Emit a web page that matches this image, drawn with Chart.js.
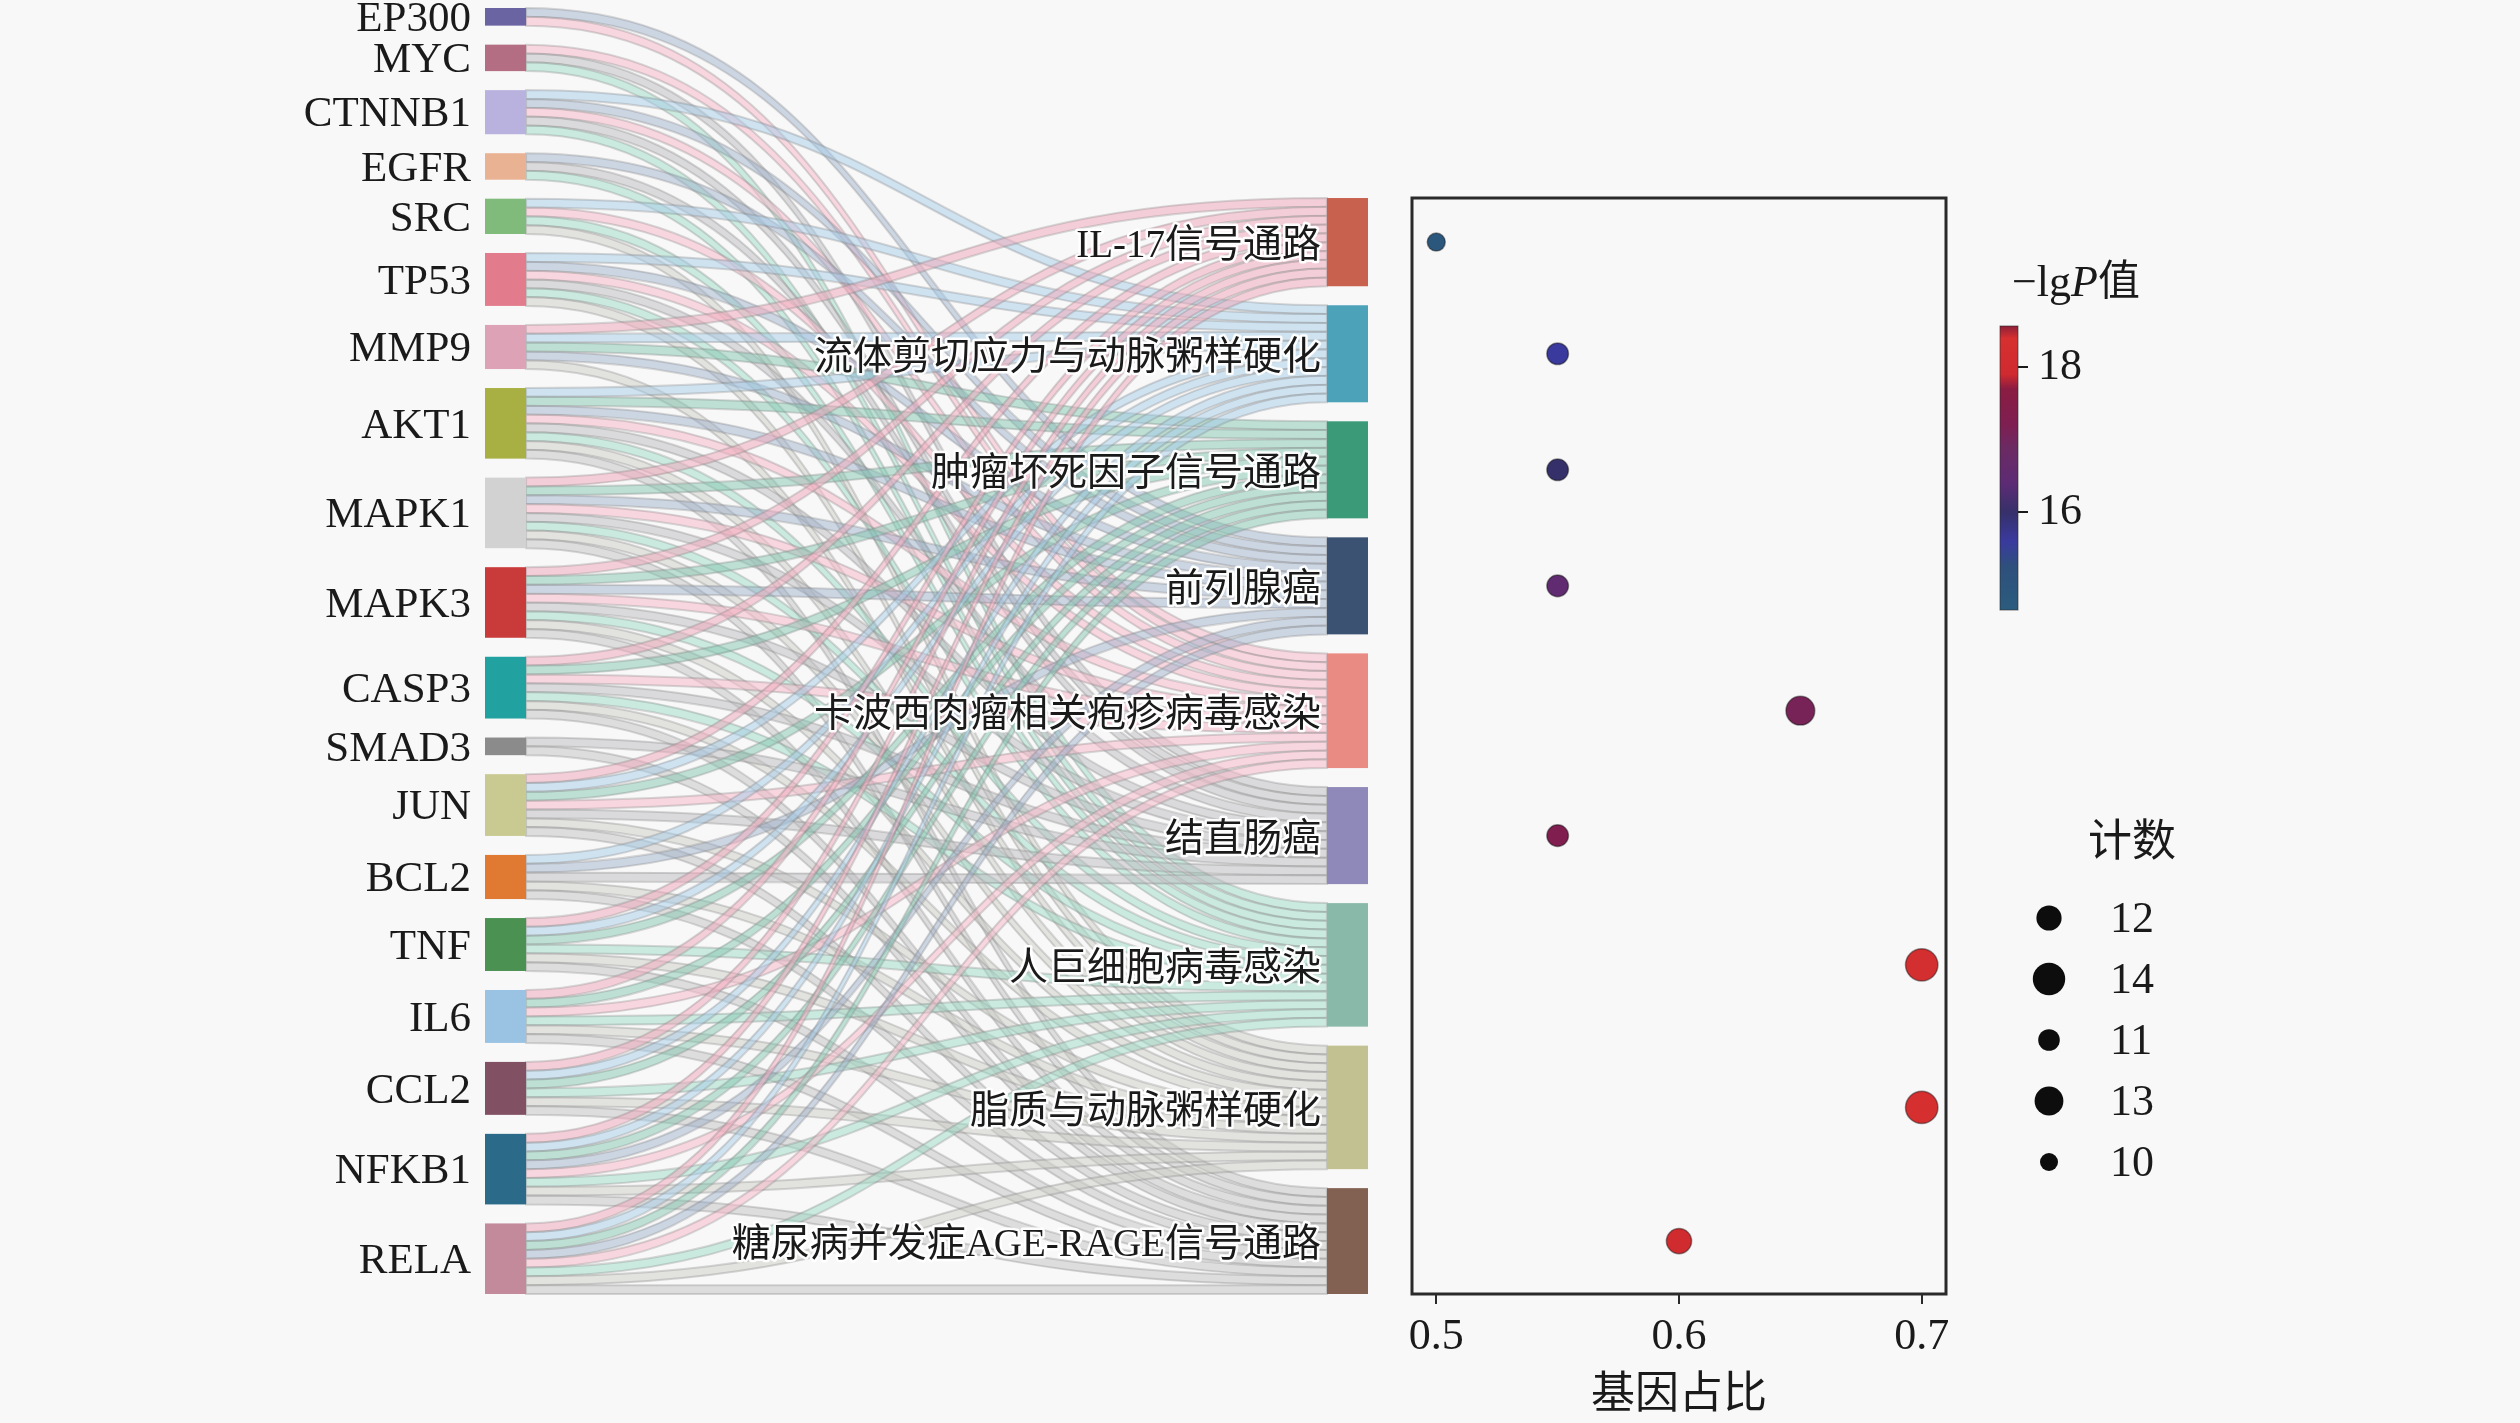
<!DOCTYPE html>
<html>
<head>
<meta charset="utf-8">
<script src="https://cdn.jsdelivr.net/npm/chart.js@4.4.1/dist/chart.umd.min.js"></script>
<style>
html, body { margin: 0; padding: 0; background: #f8f8f8; }
body { width: 2520px; height: 1423px; position: relative; overflow: hidden; }
canvas { position: absolute; }
</style>
</head>
<body>
<canvas id="sankey" width="1400" height="1423" style="left:0;top:0"></canvas>
<canvas id="dots" width="1140" height="1423" style="left:1380px;top:0"></canvas>
<canvas id="cbar" width="200" height="420" style="left:1990px;top:240px"></canvas>
<script>
// genes (left column)
const genes = ['EP300', 'MYC', 'CTNNB1', 'EGFR', 'SRC', 'TP53', 'MMP9', 'AKT1', 'MAPK1', 'MAPK3',
    'CASP3', 'SMAD3', 'JUN', 'BCL2', 'TNF', 'IL6', 'CCL2', 'NFKB1', 'RELA'];
const geneColors = ['#6b64a2', '#b36e84', '#bab2de', '#e9b292', '#80bb7b', '#e27c8c', '#dda2b6', '#a9b043',
    '#d2d2d2', '#c93b3b', '#22a1a1', '#8b8b8b', '#c9c992', '#e07a32', '#4b9152', '#9ac2e2', '#815062', '#2b6b89', '#c28a9a'];

// pathways (right column)
const pathways = ['IL-17信号通路', '流体剪切应力与动脉粥样硬化', '肿瘤坏死因子信号通路', '前列腺癌',
    '卡波西肉瘤相关疱疹病毒感染', '结直肠癌', '人巨细胞病毒感染', '脂质与动脉粥样硬化', '糖尿病并发症AGE-RAGE信号通路'];
const pathwayColors = ['#c9614f', '#4ba2b9', '#3b9b79', '#3b5272', '#e98b82', '#8f89b9', '#89b9a9', '#c1c192', '#826152'];
const linkColors = ['rgba(238,172,190,0.55)', 'rgba(166,204,232,0.5)', 'rgba(130,198,176,0.5)', 'rgba(150,170,200,0.45)',
    'rgba(246,186,202,0.55)', 'rgba(188,188,192,0.5)', 'rgba(156,218,198,0.5)', 'rgba(204,204,198,0.5)', 'rgba(194,194,194,0.5)'];

const pathwayCount = [10, 11, 11, 11, 13, 11, 14, 14, 12];
const geneRatio = [0.50, 0.55, 0.55, 0.55, 0.65, 0.55, 0.70, 0.70, 0.60];
const lgP = [14.9, 15.6, 16.0, 16.5, 17.1, 17.3, 18.2, 18.3, 18.0];

// pathway indices each gene belongs to
const geneLinks = [
    [3, 4], [4, 5, 6], [1, 3, 4, 5, 6], [3, 5, 6], [1, 4, 6, 7], [1, 3, 4, 5, 6, 7],
    [0, 1, 2, 3, 7], [1, 2, 3, 4, 5, 6, 7, 8], [0, 2, 3, 4, 5, 6, 7, 8], [0, 2, 3, 4, 5, 6, 7, 8],
    [0, 2, 4, 5, 6, 7, 8], [5, 8], [0, 1, 2, 4, 5, 7, 8], [1, 3, 5, 7, 8], [0, 1, 2, 6, 7, 8],
    [0, 2, 4, 6, 7, 8], [0, 1, 2, 6, 7, 8], [0, 1, 2, 3, 4, 6, 7, 8], [0, 1, 2, 3, 4, 6, 7, 8]
];

const xTicks = [0.5, 0.6, 0.7];
const cbarTicks = [16, 18];
const cbarRange = [14.65, 18.57];
const sizeLegend = [12, 14, 11, 13, 10];

// colour map of the -lgP bar, bottom to top
const cmapStops = [
    [14.65, '#2b5c7e'], [15.25, '#2e507c'], [15.6, '#3a3a9e'], [16.0, '#36306a'], [16.4, '#5d2b75'],
    [16.9, '#6c2a62'], [17.2, '#7e1f52'], [17.7, '#8a1c42'], [17.9, '#cf2a2f'], [18.4, '#d63030'], [18.57, '#8e2038']
];

const FONT = "'Liberation Serif', 'Noto Sans CJK SC', serif";
Chart.defaults.font.family = FONT;
Chart.defaults.color = '#1a1a1a';

const GAP = 2.154;      // gap between nodes, in link units
const NODE_W = 0.0465;  // node width, fraction of x scale

// ---- sankey layout (in value units) ----
const links = [];
geneLinks.forEach((ts, g) => ts.forEach(p => links.push({ g: g, p: p })));
const geneSize = geneLinks.map(t => t.length);
const pathSize = pathways.map((_, p) => links.filter(l => l.p === p).length);
const total = links.length + (genes.length - 1) * GAP;
const rightStart = (genes.length - pathways.length) * GAP;

let acc = 0;
const geneY = geneSize.map(s => { const y0 = acc; acc += s + GAP; return y0; });
acc = rightStart;
const pathY = pathSize.map(s => { const y0 = acc; acc += s + GAP; return y0; });
const pathCenter = pathY.map((y0, i) => y0 + pathSize[i] / 2);

genes.forEach((_, g) => {
    let o = geneY[g];
    links.filter(l => l.g === g).sort((a, b) => a.p - b.p).forEach(l => { l.sy = o; o += 1; });
});
pathways.forEach((_, p) => {
    let o = pathY[p];
    links.filter(l => l.p === p).sort((a, b) => a.g - b.g).forEach(l => { l.ty = o; o += 1; });
});

function hexRgb(h) {
    return [parseInt(h.slice(1, 3), 16), parseInt(h.slice(3, 5), 16), parseInt(h.slice(5, 7), 16)];
}
function cmap(v) {
    for (let i = 1; i < cmapStops.length; i++) {
        if (v <= cmapStops[i][0]) {
            const [v0, c0] = cmapStops[i - 1], [v1, c1] = cmapStops[i];
            const t = Math.max(0, (v - v0) / (v1 - v0));
            const a = hexRgb(c0), b = hexRgb(c1);
            return 'rgb(' + a.map((x, k) => Math.round(x + (b[k] - x) * t)).join(',') + ')';
        }
    }
    return cmapStops[cmapStops.length - 1][1];
}
const radius = c => 9 + (c - 10) * 1.8;

function haloText(ctx, txt, x, y) {
    ctx.lineJoin = 'round';
    ctx.strokeStyle = 'rgba(255,255,255,0.95)';
    ctx.lineWidth = 5;
    ctx.strokeText(txt, x, y);
    ctx.fillStyle = '#1a1a1a';
    ctx.fillText(txt, x, y);
}

const sankeyPlugin = {
    id: 'sankeyDraw',
    afterDatasetsDraw(chart) {
        const { ctx, scales: { x, y } } = chart;
        const xl = x.getPixelForValue(NODE_W), xr = x.getPixelForValue(1 - NODE_W);
        const xm = (xl + xr) / 2;
        ctx.save();
        links.forEach(l => {
            const s0 = y.getPixelForValue(l.sy), s1 = y.getPixelForValue(l.sy + 1);
            const t0 = y.getPixelForValue(l.ty), t1 = y.getPixelForValue(l.ty + 1);
            ctx.beginPath();
            ctx.moveTo(xl, s0);
            ctx.bezierCurveTo(xm, s0, xm, t0, xr, t0);
            ctx.lineTo(xr, t1);
            ctx.bezierCurveTo(xm, t1, xm, s1, xl, s1);
            ctx.closePath();
            ctx.fillStyle = linkColors[l.p];
            ctx.fill();
            ctx.strokeStyle = 'rgba(130,130,130,0.3)';
            ctx.lineWidth = 2;
            ctx.stroke();
        });

        // nodes
        const x0 = x.getPixelForValue(0), x1 = x.getPixelForValue(1);
        genes.forEach((g, i) => {
            const a = y.getPixelForValue(geneY[i]), b = y.getPixelForValue(geneY[i] + geneSize[i]);
            ctx.fillStyle = geneColors[i];
            ctx.fillRect(x0, a, xl - x0, b - a);
        });
        pathways.forEach((p, i) => {
            const a = y.getPixelForValue(pathY[i]), b = y.getPixelForValue(pathY[i] + pathSize[i]);
            ctx.fillStyle = pathwayColors[i];
            ctx.fillRect(xr, a, x1 - xr, b - a);
        });

        // labels
        ctx.textBaseline = 'middle';
        ctx.textAlign = 'right';
        ctx.font = '43px ' + FONT;
        ctx.fillStyle = '#1a1a1a';
        genes.forEach((g, i) => {
            ctx.fillText(g, x0 - 14, y.getPixelForValue(geneY[i] + geneSize[i] / 2) + 3);
        });
        ctx.font = '39px ' + FONT;
        pathways.forEach((p, i) => {
            haloText(ctx, p, xr - 6, y.getPixelForValue(pathCenter[i]) + 5);
        });
        ctx.restore();
    }
};

new Chart(document.getElementById('sankey'), {
    type: 'scatter',
    data: { datasets: [{ data: [] }] },
    options: {
        responsive: false,
        animation: false,
        layout: { padding: { left: 485, right: 32, top: 8, bottom: 129 } },
        plugins: { legend: { display: false }, tooltip: { enabled: false } },
        scales: {
            x: { type: 'linear', min: 0, max: 1, display: false },
            y: { type: 'linear', min: 0, max: total, reverse: true, display: false }
        }
    },
    plugins: [sankeyPlugin]
});

// ---- bubble chart ----
const frameAndLegend = {
    id: 'frameAndLegend',
    afterDraw(chart) {
        const { ctx, chartArea: ca } = chart;
        ctx.save();
        ctx.strokeStyle = '#2a2a2a';
        ctx.lineWidth = 3;
        ctx.strokeRect(ca.left, ca.top, ca.right - ca.left, ca.bottom - ca.top);

        // size legend
        const lx = ca.right + 103;
        ctx.font = '44px ' + FONT;
        ctx.textBaseline = 'middle';
        ctx.textAlign = 'center';
        ctx.fillStyle = '#1a1a1a';
        ctx.fillText('计数', ca.right + 186, 844);
        ctx.textAlign = 'left';
        sizeLegend.forEach((c, i) => {
            const cy = 918 + i * 61;
            ctx.beginPath();
            ctx.arc(lx, cy, radius(c), 0, Math.PI * 2);
            ctx.fillStyle = '#0d0d0d';
            ctx.fill();
            ctx.fillStyle = '#1a1a1a';
            ctx.fillText(String(c), ca.right + 164, cy + 2);
        });
        ctx.restore();
    }
};

new Chart(document.getElementById('dots'), {
    type: 'bubble',
    data: {
        datasets: [{
            data: pathways.map((p, i) => ({ x: geneRatio[i], y: pathCenter[i], r: radius(pathwayCount[i]) })),
            backgroundColor: lgP.map(cmap),
            borderColor: 'rgba(20,20,20,0.45)',
            borderWidth: 1.5
        }]
    },
    options: {
        responsive: false,
        animation: false,
        layout: { padding: { left: 32, right: 574, top: 198, bottom: 0 } },
        plugins: { legend: { display: false }, tooltip: { enabled: false } },
        scales: {
            x: {
                type: 'linear', min: 0.49, max: 0.71,
                afterBuildTicks: s => { s.ticks = xTicks.map(v => ({ value: v })); },
                afterFit: s => { s.height = 129; },
                ticks: { font: { size: 44 }, color: '#1a1a1a', padding: 7, callback: v => v.toFixed(1) },
                grid: { drawOnChartArea: false, tickLength: 10, color: '#2a2a2a', lineWidth: 2 },
                border: { display: false },
                title: { display: true, text: '基因占比', font: { size: 44 }, color: '#1a1a1a', padding: { top: 0, bottom: 0 } }
            },
            y: { type: 'linear', min: rightStart, max: total, reverse: true, display: false }
        }
    },
    plugins: [frameAndLegend]
});

// ---- colour bar ----
const cbarPlugin = {
    id: 'cbarDraw',
    beforeDatasetsDraw(chart) {
        const { ctx, chartArea: ca, scales: { y } } = chart;
        ctx.save();
        const grad = ctx.createLinearGradient(0, ca.bottom, 0, ca.top);
        const span = ca.bottom - ca.top;
        cmapStops.forEach(([v, c]) => {
            grad.addColorStop(Math.min(1, Math.max(0, (ca.bottom - y.getPixelForValue(v)) / span)), c);
        });
        ctx.fillStyle = grad;
        ctx.fillRect(ca.left, ca.top, ca.right - ca.left, span);
        ctx.strokeStyle = 'rgba(40,40,40,0.6)';
        ctx.lineWidth = 1;
        ctx.strokeRect(ca.left, ca.top, ca.right - ca.left, span);

        // title: −lgP值
        ctx.fillStyle = '#1a1a1a';
        ctx.textBaseline = 'middle';
        ctx.textAlign = 'left';
        let tx = ca.left + 12;
        const ty = ca.top - 42;
        ctx.font = '44px ' + FONT;
        ctx.fillText('−lg', tx, ty);
        tx += ctx.measureText('−lg').width;
        ctx.font = 'italic 44px ' + FONT;
        ctx.fillText('P', tx, ty);
        tx += ctx.measureText('P').width;
        ctx.font = '42px ' + FONT;
        ctx.fillText('值', tx, ty);
        ctx.restore();
    }
};

new Chart(document.getElementById('cbar'), {
    type: 'scatter',
    data: { datasets: [{ data: [] }] },
    options: {
        responsive: false,
        animation: false,
        layout: { padding: { left: 10, right: 72, top: 86, bottom: 50 } },
        plugins: { legend: { display: false }, tooltip: { enabled: false } },
        scales: {
            x: { type: 'linear', min: 0, max: 1, display: false },
            y: {
                type: 'linear', position: 'right', min: cbarRange[0], max: cbarRange[1],
                afterBuildTicks: s => { s.ticks = cbarTicks.map(v => ({ value: v })); },
                afterFit: s => { s.width = 100; },
                ticks: { font: { size: 44 }, color: '#1a1a1a', padding: 10 },
                grid: { drawOnChartArea: false, tickLength: 10, color: '#1a1a1a', lineWidth: 2 },
                border: { display: false }
            }
        }
    },
    plugins: [cbarPlugin]
});
</script>
</body>
</html>
